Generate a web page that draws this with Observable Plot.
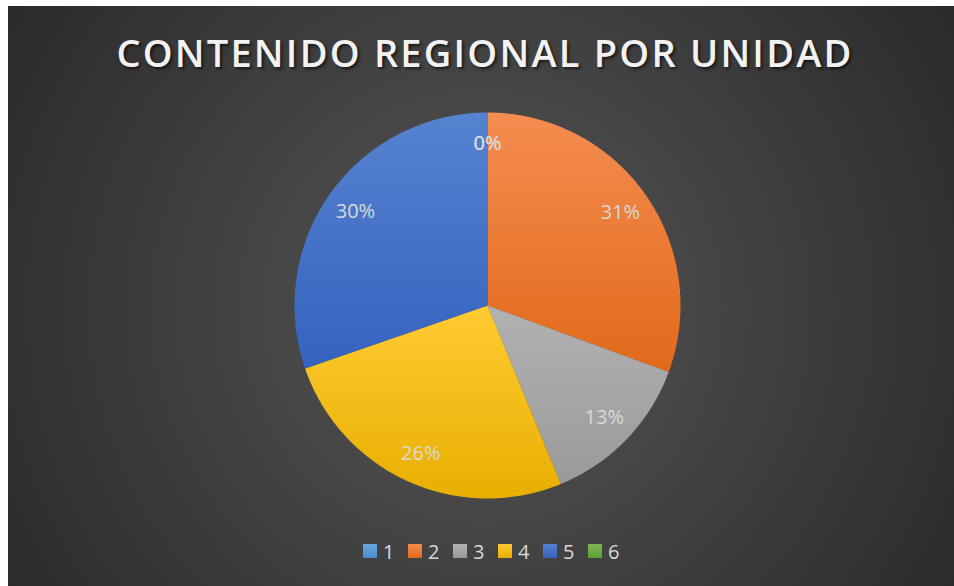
<!DOCTYPE html>
<html><head><meta charset="utf-8">
<script src="https://cdn.jsdelivr.net/npm/d3@7"></script>
<script src="https://cdn.jsdelivr.net/npm/@observablehq/plot@0.6"></script>
<style>
body{margin:0;background:#fff;}
#chart{position:absolute;left:8px;top:6px;width:946px;height:580px;overflow:hidden;
  background:radial-gradient(circle farthest-corner at 50% 52%, #555 0%, #454545 40%, #2a2a2a 100%);
  font-family:"Open Sans",sans-serif;}
#title{position:absolute;left:0;top:27px;width:954px;text-align:center;font-weight:600;font-size:38px;line-height:38px;
  color:#f2f2f2;white-space:nowrap;text-shadow:2px 2px 3px rgba(0,0,0,0.6);}
#plot{position:absolute;left:0;top:96px;}
#legend{position:absolute;left:355px;top:533px;height:24px;display:flex;align-items:center;}
.item{display:flex;align-items:center;width:45px;font-size:20px;color:#d9d9d9;}
.sw{width:14px;height:14px;margin-right:6px;}
</style></head>
<body>
<svg width="0" height="0" style="position:absolute"><defs id="defs"></defs></svg>
<div id="chart">
  <div id="title">CONTENIDO REGIONAL POR UNIDAD</div>
  <div id="plot"></div>
  <div id="legend"></div>
</div>
<script>
const titleText = "CONTENIDO REGIONAL POR UNIDAD";
const units = ["1", "2", "3", "4", "5", "6"];
const shares = [0, 30.6, 13.2, 25.9, 30.3, 0];
const colorsTop = ["#6AA7DD", "#F48D50", "#B2B2B2", "#FFCB33", "#5683D0", "#7CB852"];
const colorsBottom = ["#4A8CCB", "#E2691A", "#9A9A9A", "#E8AF00", "#3562BE", "#5F9F39"];

// gradients
const defs = d3.select("#defs");
units.forEach((u, i) => {
  const g = defs.append("linearGradient").attr("id", "g" + i)
    .attr("x1", 0).attr("y1", 0).attr("x2", 0).attr("y2", 1);
  g.append("stop").attr("offset", "0%").attr("stop-color", colorsTop[i]);
  g.append("stop").attr("offset", "100%").attr("stop-color", colorsBottom[i]);
});

// title width adjust
(function(){
  const t = document.getElementById("title");
  const c = document.createElement("canvas").getContext("2d");
  c.font = "600 38px 'Open Sans'";
  const w = c.measureText(titleText).width;
  const target = 735;
  t.style.letterSpacing = ((target - w) / (titleText.length - 1)) + "px";
})();

const data = units.map((u, i) => ({unit: u, v: shares[i], i}));
const total = d3.sum(shares);
const arcs = d3.pie().sort(null).value(d => d.v)(data);

const marks = [];
arcs.forEach(a => {
  if (a.endAngle - a.startAngle <= 0) return;
  const n = Math.max(2, Math.ceil((a.endAngle - a.startAngle) / 0.01));
  const pts = [{x: 0, y: 0}];
  for (let k = 0; k <= n; k++) {
    const t = a.startAngle + (a.endAngle - a.startAngle) * k / n;
    pts.push({x: Math.sin(t), y: Math.cos(t)});
  }
  pts.push({x: 0, y: 0});
  marks.push(Plot.line(pts, {x: "x", y: "y", fill: `url(#g${a.data.i})`, stroke: "none", curve: "linear"}));
});

const seen = new Set();
const labels = [];
arcs.forEach(a => {
  const m = (a.startAngle + a.endAngle) / 2;
  const r = 0.84;
  const x = Math.sin(m) * r, y = Math.cos(m) * r;
  const key = x.toFixed(3) + "," + y.toFixed(3);
  if (seen.has(key)) return;
  seen.add(key);
  labels.push({x, y, text: Math.round(a.data.v / total * 100) + "%"});
});
marks.push(Plot.text(labels, {x: "x", y: "y", text: "text", fill: "#d9d9d9", fontSize: 20, fontFamily: "Open Sans"}));

const R = 193, cx = 479, cy = 203;
const chart = Plot.plot({
  width: 946, height: 420,
  margin: 0,
  style: {background: "transparent", overflow: "visible"},
  x: {domain: [-1, 1], range: [cx - R, cx + R], axis: null},
  y: {domain: [-1, 1], range: [cy + R, cy - R], axis: null},
  marks
});
document.getElementById("plot").appendChild(chart);

const leg = d3.select("#legend");
units.forEach((u, i) => {
  const it = leg.append("div").attr("class", "item");
  it.append("div").attr("class", "sw").style("background", `linear-gradient(${colorsTop[i]}, ${colorsBottom[i]})`);
  it.append("span").text(u);
});
</script>
</body></html>
